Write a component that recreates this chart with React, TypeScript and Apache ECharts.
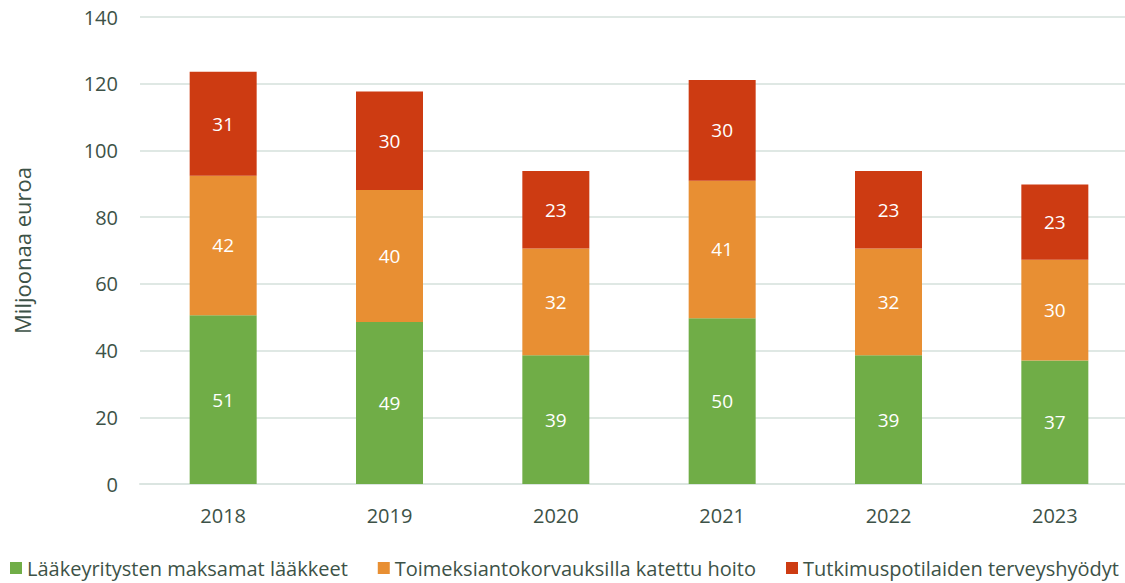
import React, { useEffect, useRef } from "react";
import * as echarts from "echarts";

const years = ["2018", "2019", "2020", "2021", "2022", "2023"];
const medicines = [50.6, 48.6, 38.6, 49.7, 38.6, 37.0];
const commissions = [41.8, 39.5, 32.0, 41.2, 32.0, 30.2];
const patientBenefits = [31.2, 29.6, 23.2, 30.2, 23.2, 22.6];
const seriesNames = [
  "Lääkeyritysten maksamat lääkkeet",
  "Toimeksiantokorvauksilla katettu hoito",
  "Tutkimuspotilaiden terveyshyödyt",
];
const colors = ["#70ad47", "#e88f33", "#cd3b12"];
const textColor = "#3d5247";
const font = "'Open Sans', sans-serif";

export default function App() {
  const ref = useRef<HTMLDivElement>(null);
  useEffect(() => {
    const chart = echarts.init(ref.current!, null, { renderer: "svg" });
    const datasets = [medicines, commissions, patientBenefits];
    chart.setOption({
      animation: false,
      textStyle: { fontFamily: font },
      grid: { left: 140, top: 17, width: 998, height: 467, outerBoundsMode: "none", containLabel: false },
      legend: {
        left: 10,
        bottom: 5,
        padding: 0,
        width: 1115,
        itemWidth: 12,
        itemHeight: 12,
        itemGap: 30,
        icon: "rect",
        textStyle: { color: textColor, fontSize: 20, fontFamily: font },
        data: seriesNames,
      },
      xAxis: {
        type: "category",
        data: years,
        axisLine: { lineStyle: { color: "#dbe5e1", width: 2 } },
        axisTick: { show: false },
        axisLabel: { color: textColor, fontSize: 20, margin: 21, fontFamily: font },
      },
      yAxis: {
        type: "value",
        min: 0,
        max: 140,
        interval: 20,
        name: "Miljoonaa euroa",
        nameLocation: "middle",
        nameGap: 107,
        nameTextStyle: { color: textColor, fontSize: 22, fontFamily: font },
        axisLabel: { color: textColor, fontSize: 20, margin: 22, fontFamily: font },
        splitLine: { lineStyle: { color: "#dfe8e4", width: 2 } },
      },
      series: datasets.map((d, i) => ({
        name: seriesNames[i],
        type: "bar",
        stack: "total",
        barWidth: 67,
        data: d,
        itemStyle: { color: colors[i] },
        label: {
          show: true,
          position: "inside",
          color: "#ffffff",
          fontSize: 19,
          fontFamily: font,
          formatter: (p: any) => String(Math.round(p.value)),
        },
      })),
    });
    return () => chart.dispose();
  }, []);
  return (
    <div
      ref={ref}
      style={{ position: "absolute", left: 0, top: 0, width: 1125, height: 583 }}
    />
  );
}
